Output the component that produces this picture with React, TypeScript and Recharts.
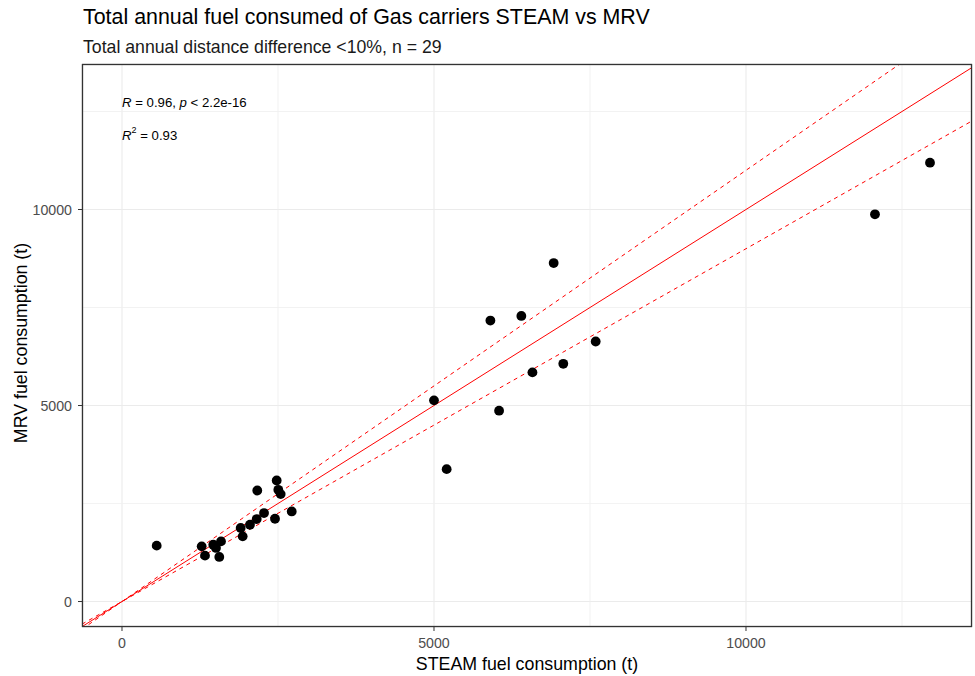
import React from 'react';
import { ScatterChart, Scatter, XAxis, YAxis, CartesianGrid, ReferenceLine } from 'recharts';

// values (tonnes)
const steamFuel = [
    556, 1277, 1330, 1463, 1506, 1587, 1559, 1902, 1934, 2051, 2159, 2168, 2276, 2452, 2479, 2505, 2543, 2720,
    5000, 5203, 5904, 6043, 6400, 6578, 6918, 7072, 7591, 12067, 12949,
];
const mrvFuel = [
    1425, 1407, 1170, 1450, 1366, 1534, 1137, 1875, 1662, 1959, 2104, 2832, 2257, 2112, 3087, 2850, 2740, 2298,
    5132, 3377, 7167, 4868, 7285, 5845, 8634, 6064, 6633, 9877, 11194,
];
const majorTicks = [0, 5000, 10000];
const minorTicks = [2500, 7500, 12500];
const xDomain = [-641, 13622];
const yDomain = [-650, 13712];
// identity line and +/-10% bands
const slopes = [1, 1.1, 0.9];

const points = steamFuel.map((x, i) => ({ steam: x, mrv: mrvFuel[i] }));

const font = '"Liberation Sans", Arial, sans-serif';

export default function App() {
    const W = 975;
    const H = 676;
    return (
        <div style={{ position: 'absolute', left: 0, top: 0, width: W, height: H, background: '#fff', fontFamily: font }}>
            <ScatterChart width={W} height={H} margin={{ top: 64, right: 3, bottom: 19, left: 22 }}>
                <CartesianGrid stroke="#ebebeb" strokeWidth={1.1} />
                {minorTicks.map((t) => (
                    <ReferenceLine key={'vx' + t} x={t} stroke="#efefef" strokeWidth={0.8} />
                ))}
                {minorTicks.map((t) => (
                    <ReferenceLine key={'hy' + t} y={t} stroke="#efefef" strokeWidth={0.8} />
                ))}
                <XAxis
                    type="number"
                    dataKey="steam"
                    domain={xDomain}
                    ticks={majorTicks}
                    allowDataOverflow
                    height={30}
                    tickSize={4}
                    tickMargin={7}
                    tick={{ fill: '#4d4d4d', fontSize: 14.2, fontFamily: font }}
                    axisLine={false}
                    tickLine={{ stroke: '#333333' }}
                />
                <YAxis
                    type="number"
                    dataKey="mrv"
                    domain={yDomain}
                    ticks={majorTicks}
                    allowDataOverflow
                    width={60}
                    tickSize={4}
                    tickMargin={6}
                    tick={{ fill: '#4d4d4d', fontSize: 14.2, fontFamily: font }}
                    axisLine={false}
                    tickLine={{ stroke: '#333333' }}
                />
                {slopes.map((s) => (
                    <ReferenceLine
                        key={'s' + s}
                        segment={[
                            { x: xDomain[0], y: xDomain[0] * s },
                            { x: xDomain[1], y: xDomain[1] * s },
                        ]}
                        ifOverflow="hidden"
                        stroke="#ff0000"
                        strokeWidth={1}
                        strokeDasharray={s === 1 ? undefined : '4 4'}
                    />
                ))}
                <Scatter data={points} fill="#000000" isAnimationActive={false} shape={(p: any) => <circle cx={p.cx} cy={p.cy} r={4.9} fill="#000" />} />
            </ScatterChart>
            <svg width={W} height={H} style={{ position: 'absolute', left: 0, top: 0, pointerEvents: 'none' }}>
                <rect x={82.5} y={64.5} width={889} height={562} fill="none" stroke="#333333" strokeWidth={1.3} />
                <text x={83} y={24} fontSize={21.4} fill="#000" fontFamily={font}>
                    Total annual fuel consumed of Gas carriers STEAM vs MRV
                </text>
                <text x={83} y={53} fontSize={17.7} fill="#1a1a1a" fontFamily={font}>
                    Total annual distance difference &lt;10%, n = 29
                </text>
                <text x={122} y={106.5} fontSize={13.2} fill="#000" fontFamily={font}>
                    <tspan fontStyle="italic">R</tspan> = 0.96, <tspan fontStyle="italic">p</tspan> &lt; 2.2e-16
                </text>
                <text x={122} y={140} fontSize={13.2} fill="#000" fontFamily={font}>
                    <tspan fontStyle="italic">R</tspan>
                    <tspan fontSize={9} dy={-7}>2</tspan>
                    <tspan dy={7}> = 0.93</tspan>
                </text>
                <text x={527} y={670} fontSize={17.8} fill="#000" textAnchor="middle" fontFamily={font}>
                    STEAM fuel consumption (t)
                </text>
                <text
                    x={0}
                    y={0}
                    fontSize={17.8}
                    fill="#000"
                    textAnchor="middle"
                    fontFamily={font}
                    transform="translate(27 343) rotate(-90)"
                >
                    MRV fuel consumption (t)
                </text>
            </svg>
        </div>
    );
}
